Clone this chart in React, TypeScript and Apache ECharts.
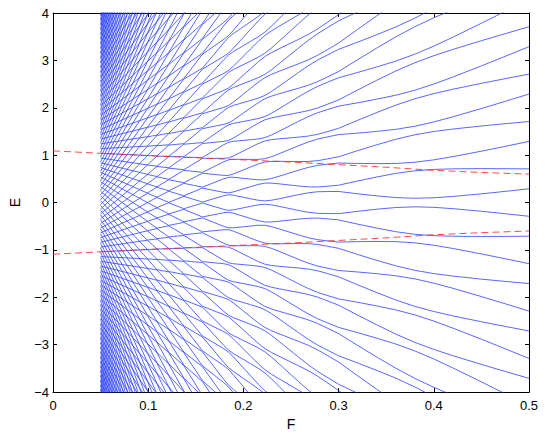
import React, { useEffect, useRef } from "react";
import * as echarts from "echarts";

// Field values (F) at which the lowest non-negative level was read
const fGrid = [
  0.05, 0.0519, 0.0545, 0.0574, 0.0605, 0.0641, 0.0681, 0.0727, 0.0778, 0.0839,
  0.0909, 0.0992, 0.1092, 0.1216, 0.1374, 0.157, 0.1795, 0.1845, 0.1895, 0.2075,
  0.2155, 0.2225, 0.2295, 0.2375, 0.258, 0.268, 0.278, 0.288, 0.3, 0.32,
  0.34, 0.36, 0.38, 0.4, 0.42, 0.45, 0.475, 0.5,
];
// Lowest non-negative level (E) read at each F of fGrid
const levelS = [
  0.04, 0.0, 0.0545, 0.0, 0.0605, 0.0, 0.068, 0.0, 0.0775, 0.0005,
  0.0895, 0.002, 0.106, 0.004, 0.131, 0.01, 0.1445, 0.1645, 0.1545, 0.08,
  0.049, 0.035, 0.049, 0.08, 0.167, 0.205, 0.228, 0.232, 0.234, 0.185,
  0.141, 0.105, 0.09, 0.101, 0.129, 0.184, 0.236, 0.29,
];
// Ladder rung spacing measured per unit F (spacing 1.0 at F = 0.5)
const rungSpacingPerF = 2;
// Rung indices of each ladder
const rungs = [
  -41, -40, -39, -38, -37, -36, -35, -34, -33, -32, -31, -30, -29, -28, -27, -26, -25, -24, -23, -22, -21,
  -20, -19, -18, -17, -16, -15, -14, -13, -12, -11, -10, -9, -8, -7, -6, -5, -4, -3, -2, -1,
  0, 1, 2, 3, 4, 5, 6, 7, 8, 9, 10, 11, 12, 13, 14, 15, 16, 17, 18, 19, 20,
  21, 22, 23, 24, 25, 26, 27, 28, 29, 30, 31, 32, 33, 34, 35, 36, 37, 38, 39, 40, 41,
];
const ladders = [1, -1];

// Red dashed band-centre curves
const centerF = [0, 0.05, 0.1, 0.15, 0.2, 0.25, 0.3, 0.35, 0.4, 0.45, 0.5];
const centerUpper = [1.09, 1.04, 0.99, 0.945, 0.9, 0.855, 0.8, 0.745, 0.68, 0.635, 0.6];
const centerLower = [-1.09, -1.04, -0.99, -0.945, -0.9, -0.855, -0.8, -0.745, -0.68, -0.635, -0.6];

const FONT = "Liberation Sans, Arial, Helvetica, sans-serif";

export default function App() {
  const ref = useRef<HTMLDivElement>(null);

  useEffect(() => {
    if (!ref.current) return;
    const chart = echarts.init(ref.current, null, { renderer: "svg" });

    const series: any[] = [];
    for (const sign of ladders) {
      for (const n of rungs) {
        series.push({
          type: "line",
          data: fGrid.map((f, i) => [f, sign * levelS[i] + rungSpacingPerF * n * f]),
          showSymbol: false,
          symbol: "none",
          silent: true,
          clip: true,
          lineStyle: { color: "#2238ff", width: 0.85, opacity: 0.9 },
          z: 2,
        });
      }
    }
    for (const arr of [centerUpper, centerLower]) {
      series.push({
        type: "line",
        data: centerF.map((f, i) => [f, arr[i]]),
        showSymbol: false,
        symbol: "none",
        silent: true,
        clip: true,
        lineStyle: { color: "#ff2a2a", width: 1, type: [7, 4], opacity: 0.85 },
        z: 5,
      });
    }

    const axisLine = { show: true, onZero: false, lineStyle: { color: "#000", width: 1 } };
    const tick = { show: true, inside: true, length: 4, lineStyle: { color: "#000", width: 1 } };
    const label = { color: "#000", fontSize: 13, fontFamily: FONT };

    chart.setOption({
      animation: false,
      grid: { left: 47, right: 16, top: 13, bottom: 42, containLabel: false },
      xAxis: [
        {
          type: "value",
          min: 0,
          max: 0.5,
          interval: 0.1,
          position: "bottom",
          axisLine,
          axisTick: tick,
          splitLine: { show: false },
          axisLabel: {
            ...label,
            margin: 7,
            formatter: (v: number) => String(Math.round(v * 10) / 10),
          },
          name: "F",
          nameLocation: "middle",
          nameGap: 17,
          nameTextStyle: { color: "#000", fontSize: 14, fontFamily: FONT },
        },
        {
          type: "value",
          min: 0,
          max: 0.5,
          interval: 0.1,
          position: "top",
          axisLine,
          axisTick: tick,
          axisLabel: { show: false },
          splitLine: { show: false },
        },
      ],
      yAxis: [
        {
          type: "value",
          min: -4,
          max: 4,
          interval: 1,
          position: "left",
          axisLine,
          axisTick: tick,
          splitLine: { show: false },
          axisLabel: {
            ...label,
            margin: 4,
            formatter: (v: number) => (v < 0 ? "\u2212" + Math.abs(v) : String(v)),
          },
          name: "E",
          nameLocation: "middle",
          nameGap: 31,
          nameRotate: 90,
          nameTextStyle: { color: "#000", fontSize: 14, fontFamily: FONT },
        },
        {
          type: "value",
          min: -4,
          max: 4,
          interval: 1,
          position: "right",
          axisLine,
          axisTick: tick,
          axisLabel: { show: false },
          splitLine: { show: false },
        },
      ],
      series,
    });

    return () => chart.dispose();
  }, []);

  return (
    <div
      ref={ref}
      style={{ position: "fixed", left: 0, top: 0, width: 545, height: 436, background: "#fff" }}
    />
  );
}
